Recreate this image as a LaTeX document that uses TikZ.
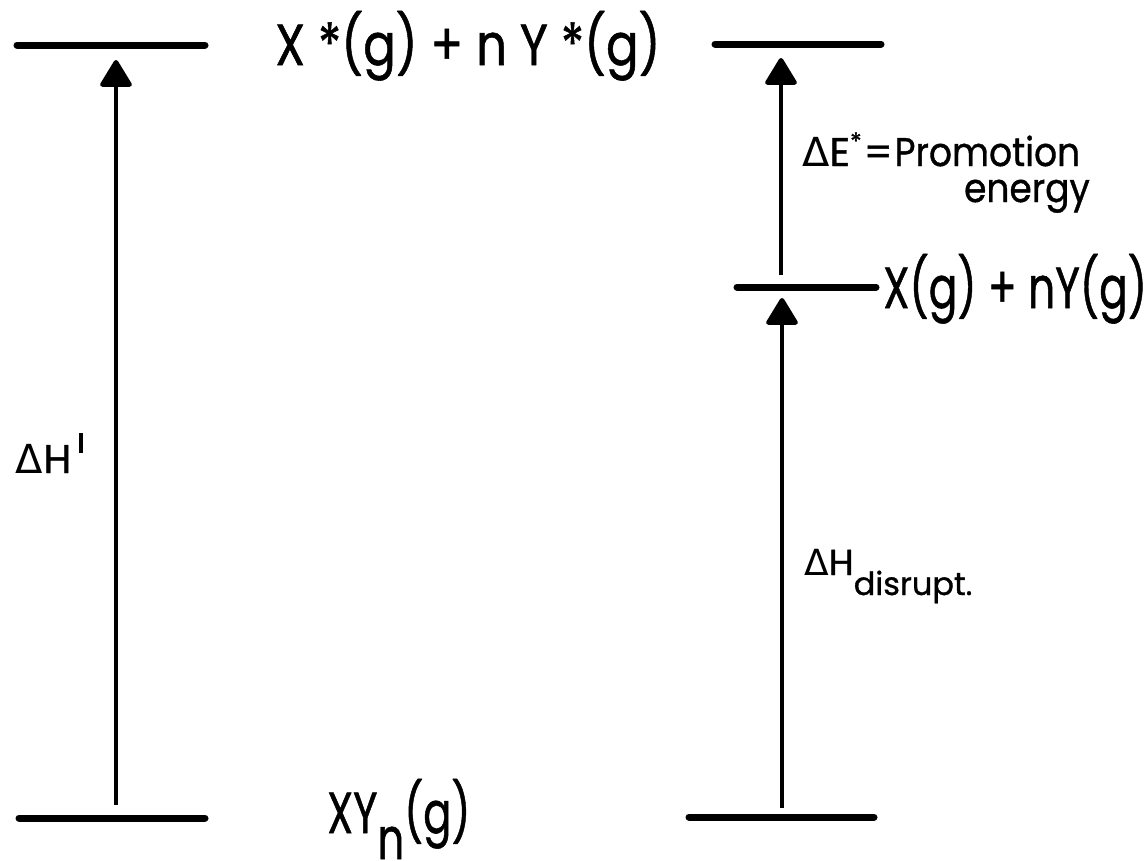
\documentclass[tikz,border=0pt]{standalone}
\usepackage{fontspec}
\setmainfont{Poppins}[FakeBold=1]
\newfontfamily\dv{DejaVu Sans}
\usetikzlibrary{arrows.meta}
\newcommand{\tri}{{\dv Δ}}
\newcommand{\nx}[2]{\scalebox{#1}[1]{#2}}
\begin{document}
\begin{tikzpicture}[x=1pt,y=-1pt,
  level/.style={line width=7pt, line cap=round},
  up/.style={line width=4.5pt, -{Triangle[length=29pt,width=34pt,round]}},
  big/.style={inner sep=0pt, anchor=base west, font=\fontsize{58}{64}\selectfont},
  small/.style={inner sep=0pt, anchor=base west, font=\fontsize{40}{44}\selectfont}]
\useasboundingbox (0,0) rectangle (1147,860);
% levels
\coordinate (tl1) at (17,45);  \coordinate (tl2) at (205,45);
\coordinate (tr1) at (715,44); \coordinate (tr2) at (881,44);
\coordinate (mr1) at (737,287); \coordinate (mr2) at (876,287);
\coordinate (bl1) at (19,818); \coordinate (bl2) at (205,818);
\coordinate (br1) at (689,817); \coordinate (br2) at (874,817);
\draw[level] (tl1) -- (tl2);
\draw[level] (tr1) -- (tr2);
\draw[level] (mr1) -- (mr2);
\draw[level] (bl1) -- (bl2);
\draw[level] (br1) -- (br2);
% arrows
\coordinate (a1s) at (116,805); \coordinate (a1e) at (116,60);
\coordinate (a2s) at (781,275); \coordinate (a2e) at (781,58);
\coordinate (a3s) at (782,808); \coordinate (a3e) at (782,298);
\draw[up] (a1s) -- (a1e);
\draw[up] (a2s) -- (a2e);
\draw[up] (a3s) -- (a3e);
% labels
\node[big] (top) at (275,65) {\nx{0.83}{X *(g) + n Y *(g)}};
\node[big] (mid) at (883,308) {\nx{0.73}{X(g) + nY(g)}};
\node[big] (bot) at (327,833) {\nx{0.72}{XY\raisebox{-26pt}{n}(g)}};
\node[small] (dE) at (802,166) {\tri E\raisebox{16pt}{\fontsize{24}{24}\selectfont *}\hspace{2pt}=\hspace{2pt}\nx{0.9}{Promotion}};
\node[small, anchor=base east] (en) at (1090,202) {\nx{0.9}{energy}};
\node[small] (dH1) at (15,473) {\tri\hspace{1pt}H\hspace{8pt}\raisebox{20pt}{\rule{4pt}{20pt}}};
\node[small, font=\fontsize{36}{40}\selectfont] (dH2) at (804,575) {\tri H\raisebox{-20pt}{\fontsize{32}{36}\selectfont disrupt.}};
\end{tikzpicture}
\end{document}
